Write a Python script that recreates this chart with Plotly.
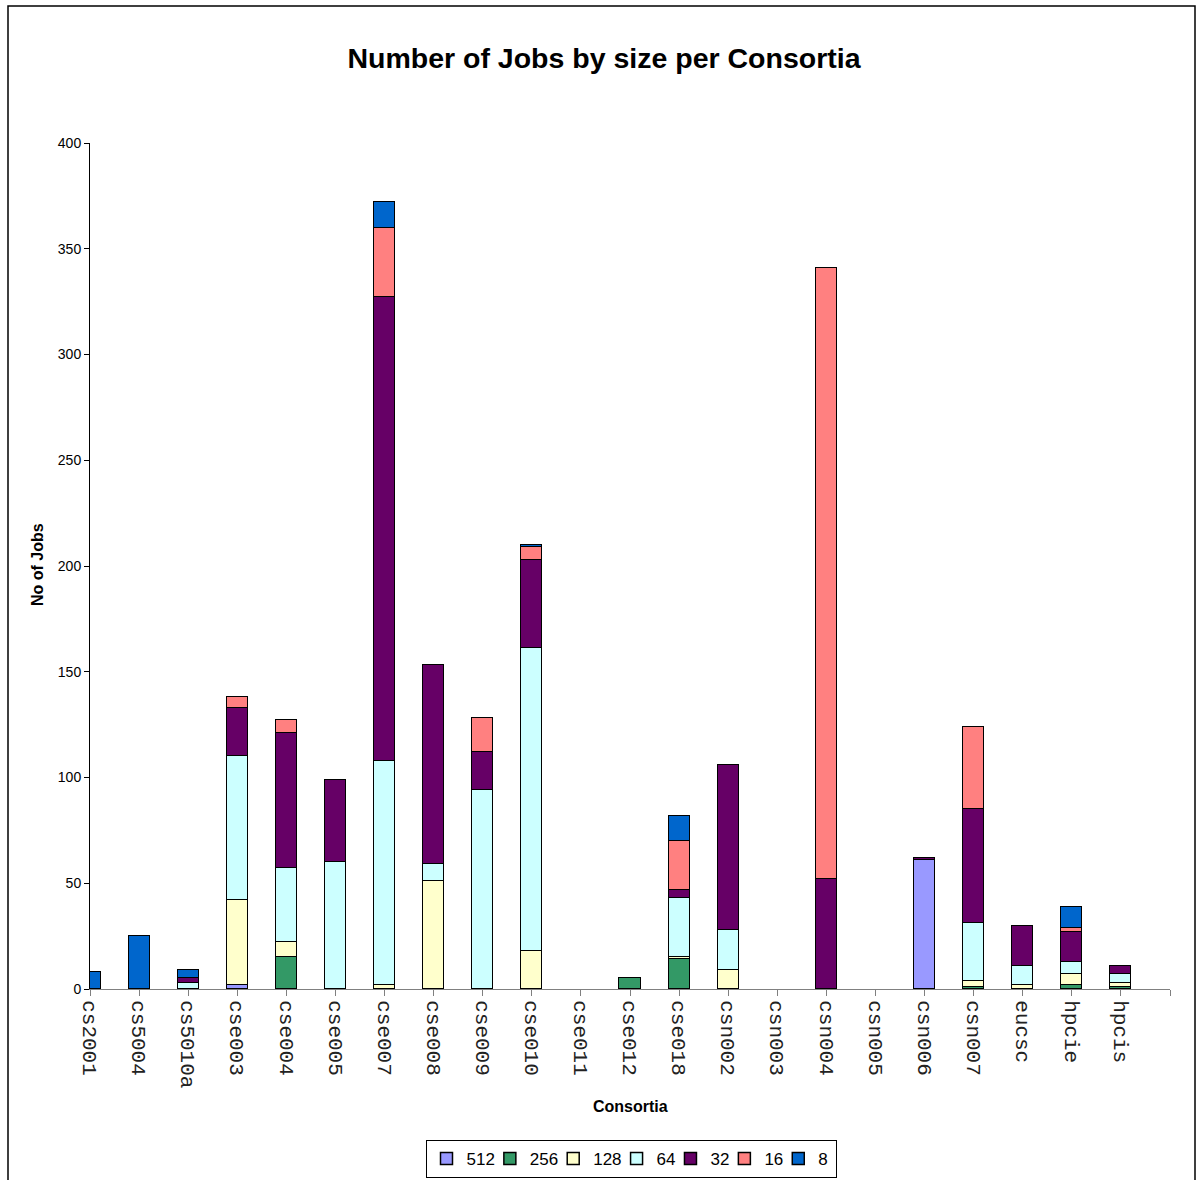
import plotly.graph_objects as go

# Consortia along the category axis
consortia = ["cs2001", "cs5004", "cs5010a", "cse003", "cse004", "cse005", "cse007",
             "cse008", "cse009", "cse010", "cse011", "cse012", "cse018", "csn002",
             "csn003", "csn004", "csn005", "csn006", "csn007", "eucsc", "hpcie", "hpcis"]

# Number of jobs per job size (processors), one value per consortium
jobs_512 = [0, 0, 0, 2, 0, 0, 0, 0, 0, 0, 0, 0, 0, 0, 0, 0, 0, 61, 0, 0, 0, 0]
jobs_256 = [0, 0, 0, 0, 15, 0, 0, 0, 0, 0, 0, 5, 14, 0, 0, 0, 0, 0, 1, 0, 2, 1]
jobs_128 = [0, 0, 0, 40, 7, 0, 2, 51, 0, 18, 0, 0, 1, 9, 0, 0, 0, 0, 3, 2, 5, 2]
jobs_64 = [0, 0, 3, 68, 35, 60, 106, 8, 94, 143, 0, 0, 28, 19, 0, 0, 0, 0, 27, 9, 6, 4]
jobs_32 = [0, 0, 2, 23, 64, 39, 219, 94, 18, 42, 0, 0, 4, 78, 0, 52, 0, 1, 54, 19, 14, 4]
jobs_16 = [0, 0, 0, 5, 6, 0, 33, 0, 16, 6, 0, 0, 23, 0, 0, 289, 0, 0, 39, 0, 2, 0]
jobs_8 = [8, 25, 4, 0, 0, 0, 12, 0, 0, 1, 0, 0, 12, 0, 0, 0, 0, 0, 0, 0, 10, 0]

size_labels = ["512", "256", "128", "64", "32", "16", "8"]
size_series = [jobs_512, jobs_256, jobs_128, jobs_64, jobs_32, jobs_16, jobs_8]
size_colors = ["#9999FF", "#339966", "#FFFFCC", "#CCFFFF", "#660066", "#FF8080", "#0066CC"]

y_ticks = [0, 50, 100, 150, 200, 250, 300, 350, 400]

W, H = 1197, 1180
L, R, T, B = 90, 1170, 143, 989  # plot area in pixels
LEGEND_FONT = 17


def px_to_paper_x(px):
    return (px - L) / (R - L)


def px_to_paper_y(py):
    return (B - py) / (B - T)


positions = list(range(len(consortia)))

fig = go.Figure()
for i, (label, values, color) in enumerate(zip(size_labels, size_series, size_colors)):
    # keep legend entries compact: slightly narrower than the label text,
    # except the last one, which sets the right edge of the legend box
    text_w = 0.556 * LEGEND_FONT * len(label)
    entry_w = text_w + 2 if i == len(size_labels) - 1 else max(text_w - 10, 1)
    fig.add_trace(go.Bar(
        x=positions,
        y=[v if v else None for v in values],
        name=label,
        width=0.43,
        legendwidth=entry_w,
        marker=dict(color=color, line=dict(color="black", width=1.5)),
    ))

fig.update_layout(
    width=W, height=H,
    margin=dict(l=L, r=W - R, t=T, b=H - B, autoexpand=False),
    paper_bgcolor="white", plot_bgcolor="white",
    barmode="stack",
    bargap=0,
    showlegend=True,
    font=dict(family="Liberation Sans, Arial", color="black"),
    title=dict(
        text="<b>Number of Jobs by size per Consortia</b>",
        x=604 / W, xref="container", xanchor="center",
        y=1 - 58 / H, yref="container", yanchor="middle",
        font=dict(family="Liberation Sans, Arial", size=28.5, color="black"),
    ),
    legend=dict(
        orientation="h",
        x=px_to_paper_x(631), xanchor="center",
        y=px_to_paper_y(1140), yanchor="top",
        traceorder="normal",
        font=dict(family="Liberation Sans, Arial", size=LEGEND_FONT, color="black"),
        bordercolor="black", borderwidth=1,
        itemwidth=30,
        bgcolor="white",
    ),
    xaxis=dict(
        range=[0, len(consortia)],
        tickmode="array",
        tickvals=positions + [len(consortia)],
        ticktext=consortia + [""],
        tickangle=90,
        ticks="outside", ticklen=6, tickcolor="#808080",
        tickfont=dict(family="Liberation Mono, Courier New, monospace", size=21, color="#222222"),
        showline=True, linecolor="#808080", linewidth=1,
        showgrid=False, zeroline=False,
        fixedrange=True,
    ),
    yaxis=dict(
        range=[0, 400],
        tickmode="array",
        tickvals=y_ticks,
        ticks="outside", ticklen=5, tickcolor="black",
        tickfont=dict(family="Liberation Sans, Arial", size=14, color="black"),
        showline=True, linecolor="black", linewidth=1,
        showgrid=False, zeroline=False,
        fixedrange=True,
    ),
    annotations=[
        dict(text="<b>No of Jobs</b>", textangle=-90,
             x=px_to_paper_x(37), y=px_to_paper_y(565),
             xref="paper", yref="paper", showarrow=False,
             xanchor="center", yanchor="middle",
             font=dict(family="Liberation Sans, Arial", size=16, color="black")),
        dict(text="<b>Consortia</b>",
             x=px_to_paper_x(630), y=px_to_paper_y(1106),
             xref="paper", yref="paper", showarrow=False,
             xanchor="center", yanchor="middle",
             font=dict(family="Liberation Sans, Arial", size=16, color="black")),
    ],
    shapes=[
        # outer chart border
        dict(type="rect", xref="paper", yref="paper",
             x0=px_to_paper_x(8), x1=px_to_paper_x(1195),
             y0=px_to_paper_y(1195), y1=px_to_paper_y(6),
             line=dict(color="black", width=1.5), fillcolor="rgba(0,0,0,0)",
             layer="below"),
    ],
)

fig.write_html("out.html")
